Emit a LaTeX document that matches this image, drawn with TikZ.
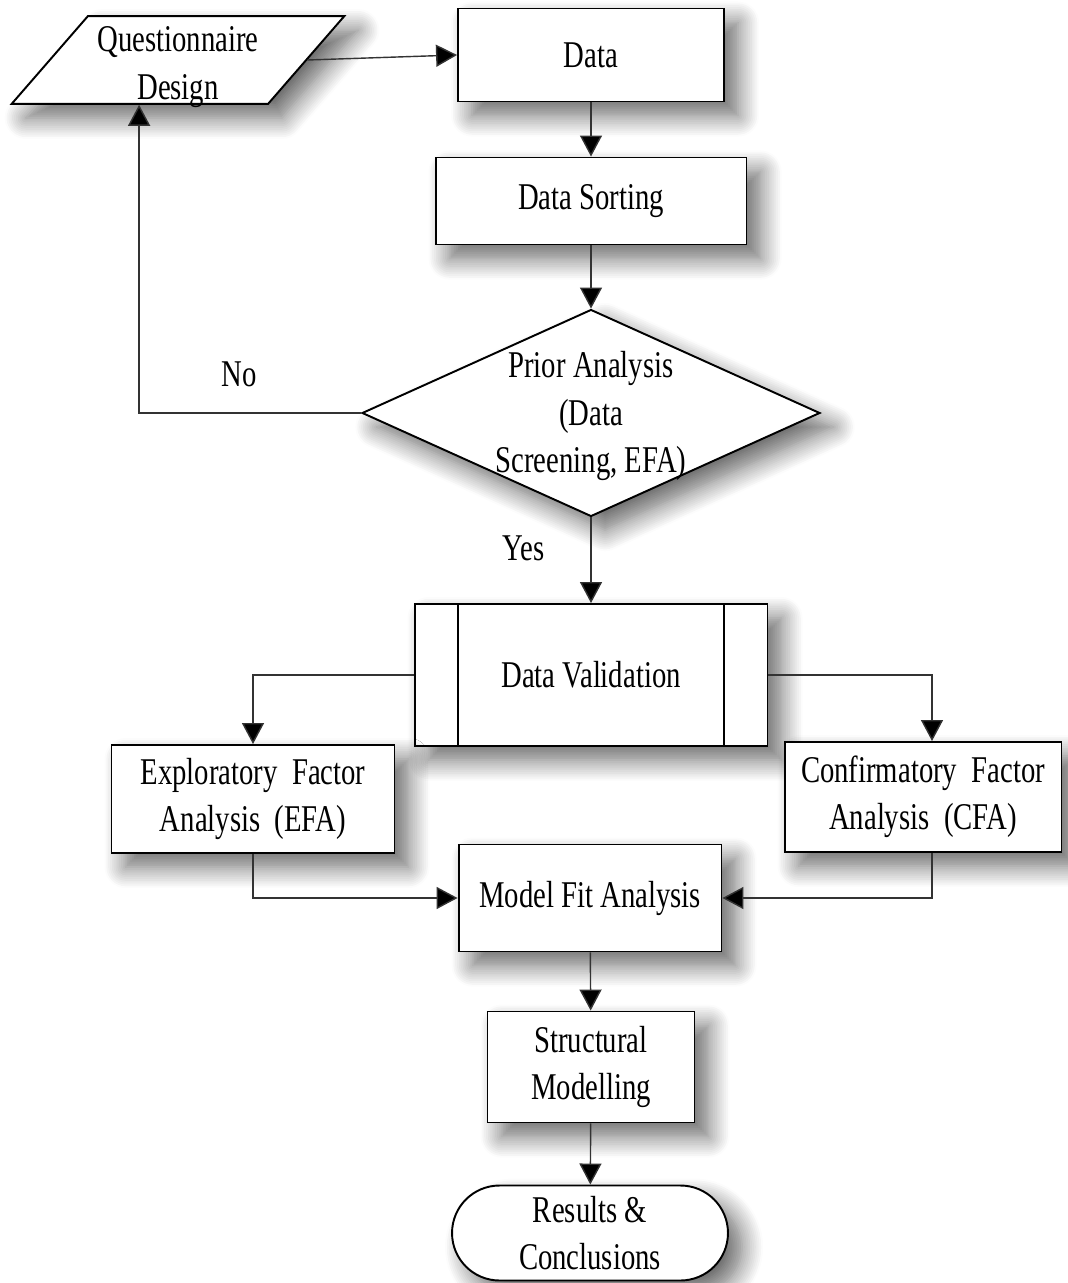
\documentclass[tikz,border=0pt]{standalone}
\usepackage{fontspec}
\setmainfont[FakeStretch=0.76]{Liberation Serif}
\usepackage{tikz}
\usetikzlibrary{shapes.geometric,shapes.misc,arrows.meta,shadows.blur}
\tikzstyle{shade} = [blur shadow={shadow xshift=8pt, shadow yshift=-8pt, shadow blur radius=12pt, shadow opacity=60, shadow blur steps=12}]
\tikzstyle{process} = [rectangle, draw=black, line width=1.1pt, fill=white, shade, align=center, inner sep=0pt]
\tikzstyle{io} = [trapezium, trapezium left angle=51, trapezium right angle=129, trapezium stretches=true, draw=black, line width=1.1pt, fill=white, shade, align=center, inner sep=2pt]
\tikzstyle{decision} = [diamond, draw=black, line width=1.1pt, fill=white, shade, align=center, inner sep=1pt]
\tikzstyle{startstop} = [rounded rectangle, draw=black, line width=1.1pt, fill=white, shade, align=center, inner sep=0pt]
\tikzstyle{arrow} = [line width=0.8pt, draw=black!80, -{Triangle[length=0.42cm, width=0.44cm, fill=black]}]

\begin{document}
\begin{tikzpicture}[x=0.02cm, y=-0.02cm, font=\fontsize{21.5}{27}\selectfont]
\useasboundingbox (0,0) rectangle (1067,1283);

\node (quest) [io, minimum width=6.66cm, minimum height=1.64cm,
  label={[align=center, yshift=-0.14cm]center:Questionnaire\\Design}] at (178,60) {\phantom{Questionnaire}\\\phantom{Design}};
\node (data) [process, minimum width=5.32cm, minimum height=1.86cm] at (591,55) {Data};
\node (sort) [process, minimum width=6.22cm, minimum height=1.74cm] at (591,201) {Data Sorting};
\node (prior) [decision, minimum width=9.16cm, minimum height=4.14cm,
  label={[align=center, yshift=-0.06cm]center:Prior Analysis\\(Data\\Screening, EFA)}] at (591,413) {};
\node (valid) [process, minimum width=7.06cm, minimum height=2.84cm] at (591,675) {Data Validation};
\draw [line width=1.1pt] ([xshift=0.88cm]valid.north west) -- ([xshift=0.88cm]valid.south west);
\draw [line width=1.1pt] ([xshift=-0.88cm]valid.north east) -- ([xshift=-0.88cm]valid.south east);
\node (efa) [process, minimum width=5.66cm, minimum height=2.16cm] at (253,799) {Exploratory~ Factor\\Analysis~ (EFA)};
\node (cfa) [process, minimum width=5.54cm, minimum height=2.2cm] at (923,797) {Confirmatory~ Factor\\Analysis~ (CFA)};
\node (fit) [process, minimum width=5.26cm, minimum height=2.14cm] at (590,898) {Model Fit Analysis};
\node (sem) [process, minimum width=4.14cm, minimum height=2.22cm] at (591,1067) {Structural\\Modelling};
\node (res) [startstop, minimum width=5.52cm, minimum height=1.9cm] at (590,1233) {Results \&\\Conclusions};

\draw [arrow] (quest.right side) -- (data.west);
\draw [arrow] (data) -- (sort);
\draw [arrow] (sort) -- (prior);
\draw [arrow] (prior.west) -| node [pos=0.275, above=0.4cm] (no) {No} (quest.bottom side);
\draw [arrow] (prior) -- node [pos=0.36, left=0.8cm] (yes) {Yes} (valid);
\draw [arrow] (valid.west) -| (efa.north);
\draw [arrow] (valid.east) -| ([xshift=0.18cm]cfa.north);
\draw [arrow] (efa.south) |- (fit.west);
\draw [arrow] ([xshift=0.18cm]cfa.south) |- (fit.east);
\draw [arrow] (fit) -- (sem);
\draw [arrow] (sem) -- (res);

\end{tikzpicture}
\end{document}
